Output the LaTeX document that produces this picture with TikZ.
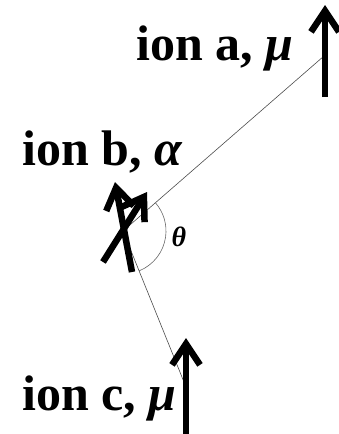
\documentclass[tikz,border=0pt]{standalone}
\usepackage{fontspec}
\setmainfont{Liberation Serif}
\usetikzlibrary{arrows.meta,angles}

\begin{document}
\begin{tikzpicture}[x=1pt,y=-1pt,>={Straight Barb[length=21pt,width=28pt]},
 lbl/.style={font=\fontsize{50}{54}\selectfont\bfseries,inner sep=0pt,anchor=base west},
 spin/.style={->,line width=6.5pt,draw=black},
 bond/.style={draw=black!70,line width=0.6pt}]
\useasboundingbox (0,0) rectangle (338,434);
% ion positions
\coordinate (b) at (123,231);
\coordinate (a) at (324,56);
\coordinate (c) at (186,387);
\draw[bond] (b)--(a);\draw[bond] (b)--(c);
\pic[draw=black!60,line width=0.6pt,angle radius=43pt] {angle=c--b--a};
% spins
\draw[spin] (325,97)--(325,5);
\draw[spin] (186,434)--(186,338);
\draw[spin] (132,272)--(115,182);
\draw[spin] (103,262)--(147,192);
% labels
\node[lbl] (ionA) at (136,60) {ion a, \textit{μ}};
\node[lbl] (ionB) at (22,165) {ion b, \textit{α}};
\node[lbl] (ionC) at (22,410) {ion c, \textit{μ}};
\node[font=\fontsize{28}{30}\selectfont\bfseries\itshape,inner sep=0pt] (theta) at (179,237) {θ};
\end{tikzpicture}
\end{document}
